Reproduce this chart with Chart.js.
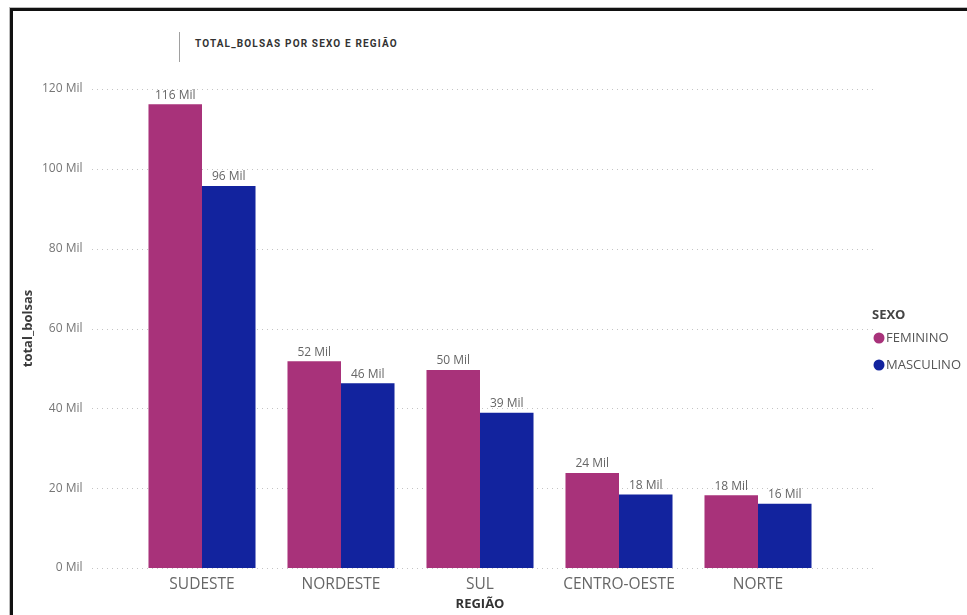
<!DOCTYPE html>
<html>
<head>
<meta charset="utf-8">
<script src="https://cdn.jsdelivr.net/npm/chart.js@4"></script>
<style>
  html, body { margin: 0; padding: 0; background: #fff; }
  #wrap { position: relative; width: 967px; height: 615px; overflow: hidden; }
  #frame {
    position: absolute; left: 10px; top: 8px; width: 1000px; height: 700px;
    border-top: 3px solid #111; border-left: 3px solid #111;
    box-shadow: -1px -1px 0 #bbb;
  }
  #title-bar {
    position: absolute; left: 179px; top: 32px; width: 1px; height: 30px; background: #a0a0a0;
  }
  #title {
    position: absolute; left: 195px; top: 38px;
    font: bold 10px Roboto, sans-serif; letter-spacing: 1.15px; color: #333;
  }
  canvas { position: absolute; left: 0; top: 0; }
</style>
</head>
<body>
<div id="wrap">
  <div id="frame"></div>
  <div id="title-bar"></div>
  <div id="title">TOTAL_BOLSAS POR SEXO E REGIÃO</div>
  <canvas id="chart" width="967" height="615"></canvas>
</div>
<script>
  // total_bolsas por região, separado por sexo
  const regioes = ['SUDESTE', 'NORDESTE', 'SUL', 'CENTRO-OESTE', 'NORTE'];
  const feminino = [116200, 51800, 49600, 23800, 18200];
  const masculino = [95700, 46300, 38900, 18400, 16100];
  const seriesNames = ['FEMININO', 'MASCULINO'];
  const seriesColors = ['#A8327A', '#12239E'];

  const FONT = '"Open Sans", "Noto Sans", sans-serif';
  const mil = v => Math.round(v / 1000) + ' Mil';

  // dotted horizontal guides, wider than the bar area
  const guides = {
    id: 'guides',
    beforeDatasetsDraw(chart) {
      const { ctx } = chart;
      const y = chart.scales.y;
      ctx.save();
      ctx.strokeStyle = '#c4c4c4';
      ctx.lineWidth = 1;
      ctx.setLineDash([1, 4]);
      y.ticks.forEach(t => {
        const py = Math.round(y.getPixelForValue(t.value)) + 0.5;
        ctx.beginPath();
        ctx.moveTo(92, py);
        ctx.lineTo(875, py);
        ctx.stroke();
      });
      ctx.restore();
    }
  };

  // value labels above each bar
  const valueLabels = {
    id: 'valueLabels',
    afterDatasetsDraw(chart) {
      const { ctx } = chart;
      ctx.save();
      ctx.font = '12px ' + FONT;
      ctx.fillStyle = '#666';
      ctx.textAlign = 'center';
      ctx.textBaseline = 'bottom';
      chart.data.datasets.forEach((ds, i) => {
        chart.getDatasetMeta(i).data.forEach((bar, j) => {
          ctx.fillText(mil(ds.data[j]), bar.x, bar.y - 3);
        });
      });
      ctx.restore();
    }
  };

  // legend on the right with a title
  const sideLegend = {
    id: 'sideLegend',
    afterDraw(chart) {
      const { ctx } = chart;
      ctx.save();
      ctx.textBaseline = 'middle';
      ctx.textAlign = 'left';
      ctx.font = 'bold 13px ' + FONT;
      ctx.fillStyle = '#444';
      ctx.fillText('SEXO', 872, 315);
      ctx.font = '13px ' + FONT;
      chart.data.datasets.forEach((ds, i) => {
        const cy = 338 + i * 27;
        ctx.fillStyle = ds.backgroundColor;
        ctx.beginPath();
        ctx.arc(879, cy, 5.5, 0, Math.PI * 2);
        ctx.fill();
        ctx.fillStyle = '#555';
        ctx.fillText(ds.label, 886, cy);
      });
      ctx.restore();
    }
  };

  new Chart(document.getElementById('chart'), {
    type: 'bar',
    data: {
      labels: regioes,
      datasets: [
        { label: seriesNames[0], data: feminino, backgroundColor: seriesColors[0] },
        { label: seriesNames[1], data: masculino, backgroundColor: seriesColors[1] }
      ]
    },
    options: {
      responsive: false,
      animation: false,
      layout: { padding: { left: 12, right: 139.5, top: 89, bottom: 0 } },
      datasets: { bar: { categoryPercentage: 0.77, barPercentage: 1.0 } },
      plugins: { legend: { display: false }, tooltip: { enabled: false } },
      scales: {
        x: {
          grid: { display: false, drawTicks: false },
          border: { display: false },
          ticks: { color: '#666', font: { family: FONT, size: 15.5 }, padding: 7 },
          title: { display: true, text: 'REGIÃO', color: '#333', font: { family: FONT, size: 13, weight: 'bold' }, padding: { top: 0, bottom: 3 } },
          afterFit: s => { s.height = 47; }
        },
        y: {
          min: 0, max: 120000,
          grid: { display: false, drawTicks: false },
          border: { display: false },
          ticks: { stepSize: 20000, color: '#777', font: { family: FONT, size: 12 }, padding: 50, callback: v => mil(v) },
          title: { display: true, text: 'total_bolsas', color: '#3a3a3a', font: { family: FONT, size: 13, weight: 'bold' }, padding: { top: 8, bottom: 4 } },
          // wide tick gap should not push the plot area up from the bottom
          afterFit: s => { s.width = 120.5; s.paddingTop = 0; s.paddingBottom = 0; }
        }
      }
    },
    plugins: [guides, valueLabels, sideLegend]
  });
</script>
</body>
</html>
